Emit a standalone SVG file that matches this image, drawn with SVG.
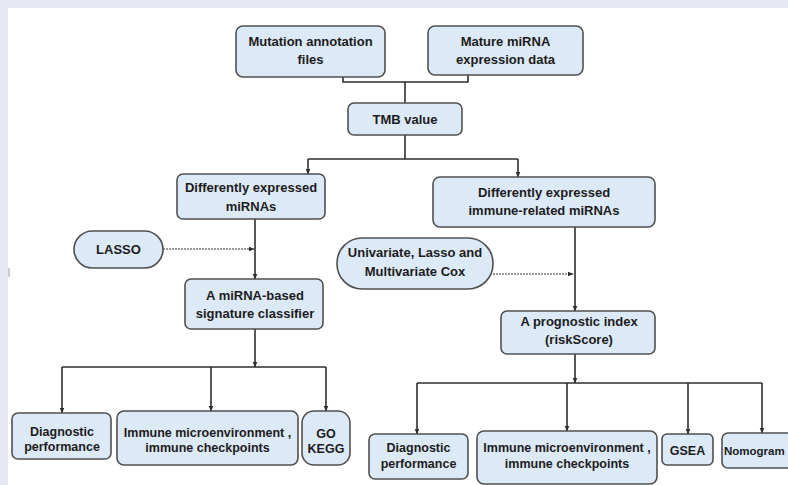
<svg xmlns="http://www.w3.org/2000/svg" width="788" height="485" viewBox="0 0 788 485">
<style>
.box{fill:#dce9f7;stroke:#505050;stroke-width:1.6}
.t{font-family:"Liberation Sans",Arial,sans-serif;font-weight:bold;font-size:13px;fill:#1c1c1c;text-anchor:middle}
.s{font-size:12.5px}
.ln{fill:none;stroke:#2e2e2e;stroke-width:1.6;stroke-linejoin:round}
.dot{fill:none;stroke:#7a7a7a;stroke-width:1.6;stroke-dasharray:2 1}
</style>
<defs>
<marker id="ar" markerWidth="6" markerHeight="6" refX="5.5" refY="3" orient="auto" markerUnits="userSpaceOnUse">
<path d="M0,0.5 L6,3 L0,5.5 z" fill="#2e2e2e"/>
</marker>
</defs>
<rect x="0" y="0" width="788" height="485" fill="#e6e7f3"/>
<rect x="8" y="8" width="780" height="477" fill="#ffffff"/>
<line x1="9" y1="268" x2="9" y2="277" stroke="#b8b8c0" stroke-width="1.5"/>

<g id="connectors">
<path class="ln" d="M343,77 V82 H405 M468,75 V82 H405 M405,82 V103"/>
<path class="ln" d="M405,135 V159 M308,159 H518"/>
<path class="ln" d="M308,159 V174" marker-end="url(#ar)"/>
<path class="ln" d="M518,159 V177" marker-end="url(#ar)"/>
<path class="ln" d="M255,219 V279" marker-end="url(#ar)"/>
<path class="dot" d="M163,249 H254" marker-end="url(#ar)"/>
<path class="ln" d="M255,329 V367" marker-end="url(#ar)"/>
<path class="ln" d="M62,367 H326"/>
<path class="ln" d="M62,367 V413" marker-end="url(#ar)"/>
<path class="ln" d="M211,367 V411" marker-end="url(#ar)"/>
<path class="ln" d="M326,367 V411" marker-end="url(#ar)"/>
<path class="ln" d="M575,227 V311" marker-end="url(#ar)"/>
<path class="dot" d="M493,274 H573" marker-end="url(#ar)"/>
<path class="ln" d="M575,354 V383" marker-end="url(#ar)"/>
<path class="ln" d="M417,383 H762"/>
<path class="ln" d="M417,383 V434" marker-end="url(#ar)"/>
<path class="ln" d="M567,383 V431" marker-end="url(#ar)"/>
<path class="ln" d="M688,383 V434" marker-end="url(#ar)"/>
<path class="ln" d="M762,383 V433" marker-end="url(#ar)"/>
</g>

<g id="mutation">
<rect class="box" x="236" y="26" width="149" height="51" rx="7"/>
<text class="t" x="310.5" y="46">Mutation annotation</text>
<text class="t" x="310.5" y="64">files</text>
</g>
<g id="mature">
<rect class="box" x="428" y="26" width="155" height="49" rx="7"/>
<text class="t" x="505.5" y="46">Mature miRNA</text>
<text class="t" x="505.5" y="64">expression data</text>
</g>
<g id="tmb">
<rect class="box" x="348" y="103" width="114" height="32" rx="6"/>
<text class="t" x="405" y="124">TMB value</text>
</g>
<g id="demirna">
<rect class="box" x="177" y="174" width="148" height="45" rx="6"/>
<text class="t" x="251" y="192">Differently expressed</text>
<text class="t" x="251" y="211">miRNAs</text>
</g>
<g id="deimmune">
<rect class="box" x="433" y="177" width="222" height="50" rx="7"/>
<text class="t" x="544" y="197">Differently expressed</text>
<text class="t" x="544" y="215">immune-related miRNAs</text>
</g>
<g id="lasso">
<rect class="box" x="74" y="231" width="89" height="37" rx="18.5"/>
<text class="t" x="118.5" y="254">LASSO</text>
</g>
<g id="cox">
<rect class="box" x="337" y="238" width="156" height="51" rx="25"/>
<text class="t" x="415" y="257">Univariate, Lasso and</text>
<text class="t" x="415" y="276">Multivariate Cox</text>
</g>
<g id="classifier">
<rect class="box" x="185" y="279" width="138" height="50" rx="6"/>
<text class="t" x="255" y="300">A miRNA-based</text>
<text class="t" x="255" y="318">signature classifier</text>
</g>
<g id="prognostic">
<rect class="box" x="501" y="311" width="154" height="43" rx="6"/>
<text class="t" x="579" y="326">A prognostic index</text>
<text class="t" x="579" y="344">(riskScore)</text>
</g>
<g id="diag1">
<rect class="box" x="12" y="413" width="99" height="46" rx="6"/>
<text class="t s" x="62" y="436">Diagnostic</text>
<text class="t s" x="62" y="451">performance</text>
</g>
<g id="immune1">
<rect class="box" x="117" y="411" width="181" height="54" rx="7"/>
<text class="t s" x="207.5" y="437">Immune microenvironment ,</text>
<text class="t s" x="207.5" y="452">immune checkpoints</text>
</g>
<g id="gokegg">
<rect class="box" x="302" y="411" width="48" height="54" rx="12"/>
<text class="t s" x="326" y="438">GO</text>
<text class="t s" x="326" y="453">KEGG</text>
</g>
<g id="diag2">
<rect class="box" x="369" y="434" width="99" height="45" rx="6"/>
<text class="t s" x="418.5" y="452">Diagnostic</text>
<text class="t s" x="418.5" y="468">performance</text>
</g>
<g id="immune2">
<rect class="box" x="477" y="431" width="180" height="53" rx="7"/>
<text class="t s" x="567" y="452">Immune microenvironment ,</text>
<text class="t s" x="567" y="468">immune checkpoints</text>
</g>
<g id="gsea">
<rect class="box" x="662" y="434" width="51" height="31" rx="5"/>
<text class="t s" x="687.5" y="455">GSEA</text>
</g>
<g id="nomogram">
<rect class="box" x="722" y="433" width="80" height="35" rx="6"/>
<text class="t" x="724" y="455" style="text-anchor:start;font-size:11.5px">Nomogram</text>
</g>
</svg>
